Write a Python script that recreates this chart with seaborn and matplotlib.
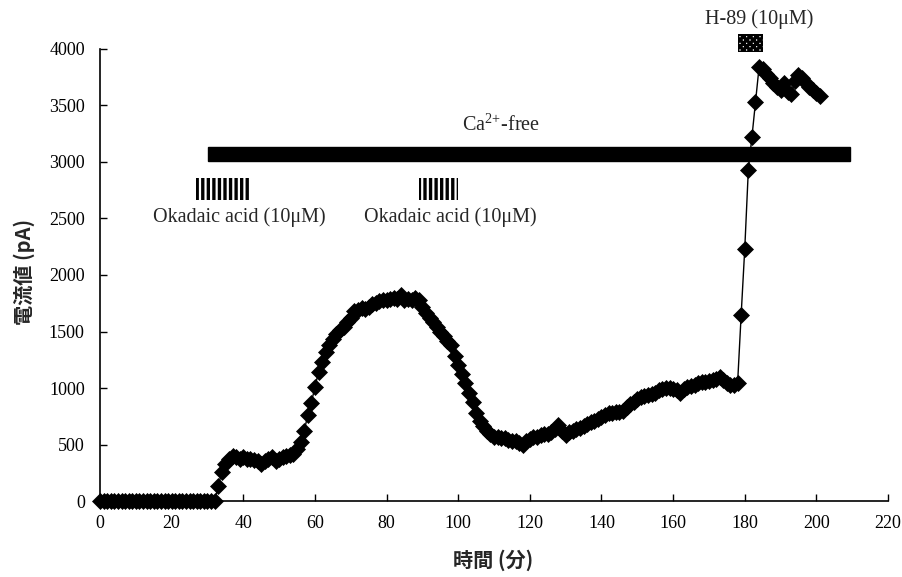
import matplotlib
matplotlib.use("Agg")
import matplotlib.pyplot as plt
from matplotlib.patches import Rectangle
import numpy as np
import pandas as pd
import seaborn as sns

# current trace, one reading per minute (0..201 min)
minutes = np.arange(0, 202)
current_pA = (
    [0] * 33
    + [130, 260, 330, 370, 400, 390, 370, 390, 370, 370,      # 33-42
       360, 350, 330, 350, 370, 390, 350, 370, 390, 400,      # 43-52
       410, 420, 460, 520, 620, 760, 870, 1010, 1140, 1230,   # 53-62
       1320, 1380, 1430, 1480, 1510, 1540, 1580, 1620, 1680, 1690,  # 63-72
       1710, 1700, 1720, 1740, 1750, 1770, 1780, 1780, 1790, 1800,  # 73-82
       1790, 1820, 1780, 1790, 1780, 1800, 1780, 1720, 1660, 1620,  # 83-92
       1580, 1540, 1500, 1460, 1420, 1380, 1280, 1200, 1120, 1040,  # 93-102
       960, 880, 780, 710, 660, 620, 590, 570, 570, 560,      # 103-112
       560, 540, 530, 530, 510, 500, 530, 550, 570, 570,      # 113-122
       580, 590, 590, 610, 640, 670, 620, 580, 610, 620,      # 123-132
       640, 650, 660, 680, 700, 710, 730, 740, 760, 780,      # 133-142
       780, 790, 790, 800, 830, 860, 880, 900, 920, 930,      # 143-152
       940, 950, 960, 980, 990, 1000, 1000, 990, 980, 960,    # 153-162
       990, 1010, 1020, 1030, 1040, 1050, 1050, 1060, 1070, 1080,  # 163-172
       1100, 1070, 1040, 1030, 1030, 1040, 1650, 2230, 2930, 3220,  # 173-182
       3530, 3840, 3820, 3780, 3740, 3700, 3660, 3640, 3700, 3620,  # 183-192
       3600, 3720, 3770, 3740, 3700, 3660, 3640, 3610, 3580]        # 193-201
)
df = pd.DataFrame({"time": minutes, "current": current_pA})

# treatment bars: (start, end) in minutes
ca_free = (30.2, 209.4)
okadaic_1 = (26.8, 41.9)
okadaic_2 = (89.0, 100.0)
h89 = (178.0, 185.0)

sns.set_style("ticks")
plt.rcParams["font.family"] = ["Liberation Serif", "DejaVu Serif"]
plt.rcParams["mathtext.fontset"] = "custom"
plt.rcParams["mathtext.rm"] = "Liberation Serif"
plt.rcParams["mathtext.it"] = "Liberation Serif:italic"
plt.rcParams["mathtext.bf"] = "Liberation Serif:bold"
plt.rcParams["hatch.linewidth"] = 2.4

fig = plt.figure(figsize=(9.02, 5.77), dpi=100)
ax = fig.add_axes([0.1109, 0.1317, 0.8736, 0.7834])

sns.lineplot(data=df, x="time", y="current", ax=ax, color="black",
             linewidth=1.0, marker="D", markersize=8, markeredgecolor="black",
             markeredgewidth=0.5, clip_on=False, zorder=5)

ax.set_xlim(0, 220)
ax.set_ylim(0, 4000)
ax.set_xticks(range(0, 221, 20))
ax.set_yticks(range(0, 4001, 500))
ax.tick_params(direction="in", length=5, width=1, labelsize=13, colors="black")
ax.tick_params(axis="x", pad=10)
ax.tick_params(axis="y", pad=11)
for side in ["left", "bottom"]:
    ax.spines[side].set_linewidth(1.2)
    ax.spines[side].set_color("black")
sns.despine(ax=ax)

cjk = ["Noto Sans CJK JP", "DejaVu Sans"]
ax.set_xlabel("時間 (分)", family=cjk, fontsize=14.5, fontweight="bold")
ax.set_ylabel("電流値 (pA)", family=cjk, fontsize=14.5, fontweight="bold")
ax.xaxis.set_label_coords(0.499, -0.108)
ax.yaxis.set_label_coords(-0.082, 0.507)

ann = dict(ha="center", va="center", fontsize=14.5)

# Ca2+-free bar
ax.add_patch(Rectangle((ca_free[0], 3010), ca_free[1] - ca_free[0], 120,
                       facecolor="black", edgecolor="black", clip_on=False, zorder=3))
ax.text(112.0, 3330, r"Ca$^{\mathrm{2\!+\!}}$-free", **ann)

# okadaic acid applications (striped)
for start, end in [okadaic_1, okadaic_2]:
    ax.add_patch(Rectangle((start, 2665), end - start, 195, facecolor="white",
                           edgecolor="black", linewidth=0, hatch="|||", clip_on=False))
ax.text(39.0, 2513, "Okadaic acid (10μM)", **ann)
ax.text(97.7, 2513, "Okadaic acid (10μM)", **ann)

# H-89 application (checkered)
ax.add_patch(Rectangle((h89[0], 3975), h89[1] - h89[0], 160, facecolor="white",
                       edgecolor="black", linewidth=0, hatch="xxxxx", clip_on=False))
ax.text(184.0, 4265, "H-89 (10μM)", **ann)

fig.savefig("out.png", dpi=100)
